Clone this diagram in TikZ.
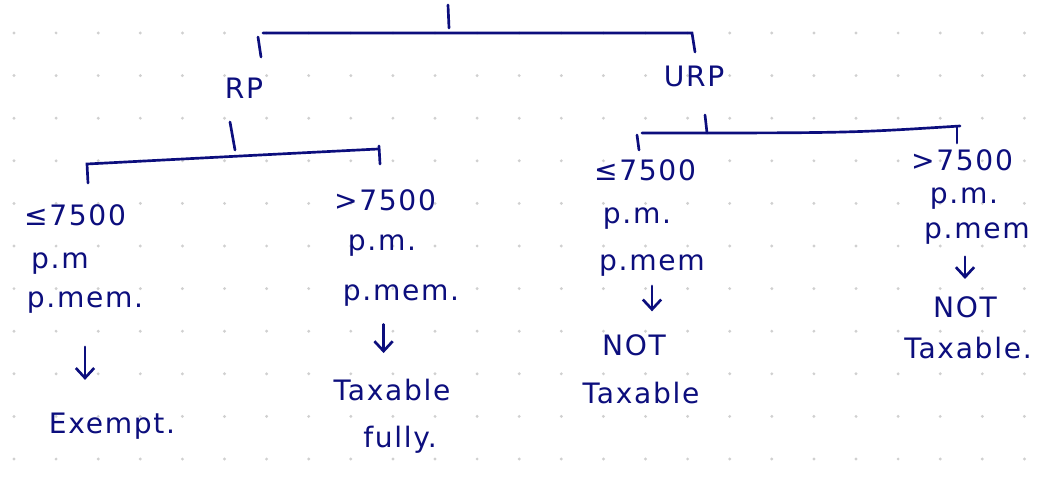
\documentclass[tikz,border=0pt]{standalone}
\usepackage{fontspec}
\setmainfont{DejaVu Sans}[LetterSpace=6]
\usetikzlibrary{arrows.meta}
\definecolor{ink}{RGB}{12,14,125}
\definecolor{dotgray}{RGB}{208,208,208}

\begin{document}
\begin{tikzpicture}[
  x=0.025cm, y=-0.025cm,
  txt/.style={text=ink, anchor=base, inner sep=2pt, font=\fontsize{20}{24}\selectfont},
  line/.style={draw=ink, line width=1.9pt, line cap=round},
  arr/.style={line, -{Straight Barb[length=7pt, width=13pt]}}
]
\useasboundingbox (0,0) rectangle (1057,486);
\fill[white] (0,0) rectangle (1057,486);
% dotted paper
\foreach \i in {0,...,24}
  \foreach \j in {0,...,10}
    \fill[dotgray] (14+42.1*\i, 33+42.6*\j) circle (0.04cm);

\node[txt] (rp)  at (244,98) {RP};
\node[txt] (urp) at (694,87) {URP};

\node[txt] (rplow)   at (75,225)  {≤7500};
\node[txt] (rplowpm) at (60,268)  {p.m};
\node[txt] (rplowpx) at (85,307)  {p.mem.};
\node[txt] (rplowres) at (112,433) {Exempt.};

\node[txt] (rphigh)   at (385,210) {>7500};
\node[txt] (rphighpm) at (382,250) {p.m.};
\node[txt] (rphighpx) at (401,300) {p.mem.};
\node[txt] (rphighres) at (392,400) {Taxable};
\node[txt] (rphighres2) at (400,447) {fully.};

\node[txt] (urplow)   at (645,180) {≤7500};
\node[txt] (urplowpm) at (637,223) {p.m.};
\node[txt] (urplowpx) at (652,270) {p.mem};
\node[txt] (urplowres) at (634,355) {NOT};
\node[txt] (urplowres2) at (641,403) {Taxable};

\node[txt] (urphigh)   at (962,170) {>7500};
\node[txt] (urphighpm) at (964,203) {p.m.};
\node[txt] (urphighpx) at (977,238) {p.mem};
\node[txt] (urphighres) at (965,317) {NOT};
\node[txt] (urphighres2) at (968,358) {Taxable.};

% top split
\coordinate (top) at (448,5);
\coordinate (tl) at (263,33);
\coordinate (tr) at (692,33);
\draw[line] (top) -- ++(1,23);
\draw[line] (tl) -- (tr) -- ++(3,19);
\draw[line] (258,37) -- (261,57);

% RP split
\coordinate (rptick) at (230,122);
\coordinate (rpl) at (87,164);
\coordinate (rpr) at (378,149);
\draw[line] (rptick) -- ++(5,28);
\draw[line] (rpl) ++(1,19) -- (rpl) .. controls (240,156) .. (rpr);
\draw[line] (379,146) -- (380,164);

% URP split
\coordinate (urptick) at (705,115);
\coordinate (urpl) at (642,133);
\coordinate (urpr) at (960,126);
\draw[line] (urptick) -- ++(2,18);
\draw[line] (urpl) .. controls (850,133) .. (urpr);
\draw[line] (637,135) -- (639,150);
\draw[line] (957,127) -- (957,143);

\draw[arr, shorten <=22pt, shorten >=21pt] (rplowpx.south) -- (rplowpx.south |- rplowres.north);
\draw[arr, shorten <=11pt, shorten >=16pt] ([xshift=-6pt]rphighres.north |- rphighpx.south) -- ([xshift=-6pt]rphighres.north);
\draw[arr, shorten <=5pt, shorten >=14pt] (urplowpx.south) -- (urplowpx.south |- urplowres.north);
\draw[arr, shorten <=7pt, shorten >=10pt] (urphighres.north |- urphighpx.south) -- (urphighres.north);
\end{tikzpicture}
\end{document}
